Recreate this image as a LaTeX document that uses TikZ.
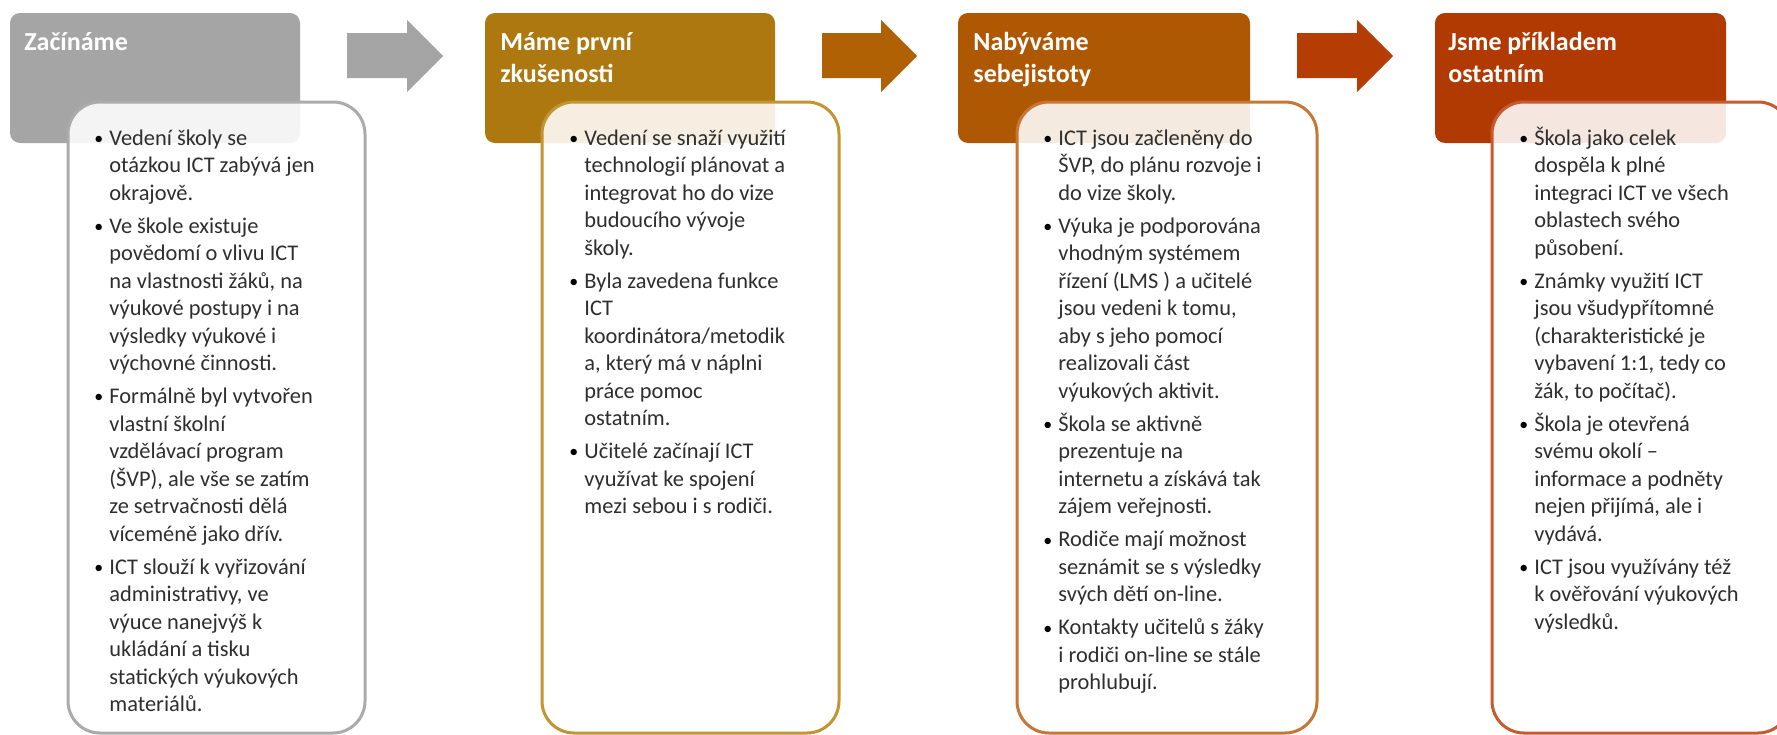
\documentclass[tikz,border=0pt]{standalone}
\usepackage{fontspec}
\setmainfont{Carlito}
\usepackage{array}
\definecolor{txt}{HTML}{2E2E2E}
\definecolor{hA}{HTML}{A5A5A5}
\definecolor{hB}{HTML}{AE7810}
\definecolor{hC}{HTML}{AF5803}
\definecolor{hD}{HTML}{B13A02}
\definecolor{bA}{HTML}{ABABAB}
\definecolor{bB}{HTML}{C39432}
\definecolor{bC}{HTML}{C77733}
\definecolor{bD}{HTML}{C65A30}
\definecolor{aA}{HTML}{A5A5A5}
\definecolor{aB}{HTML}{AF6103}
\definecolor{aC}{HTML}{B53D04}
\newcommand{\bul}{\makebox[7.5pt][l]{\color{black}\raisebox{0.4pt}{\scalebox{0.8}{\textbullet}}}}
\newcommand{\igap}{\\[2.8pt]}
\begin{document}
\begin{tikzpicture}[x=0.5pt,y=-0.5pt,
  hdr/.style={rounded corners=5pt},
  tbox/.style={line width=1.5pt, fill=white, fill opacity=0.88, rounded corners=16pt},
  htext/.style={anchor=base west, inner sep=0pt, text=white, font=\fontsize{13}{16}\selectfont\bfseries},
  btext/.style={anchor=base west, inner sep=0pt, text=txt, font=\fontsize{11.2}{13.75}\selectfont}]
\useasboundingbox[fill=white] (0,0) rectangle (1777,734);

% ---------- Column 1 ----------
\fill[hdr, hA] (10,13) rectangle (300,143);
\draw[tbox, draw=bA] (68,102) rectangle (365,733);
\node[htext] (h1) at (24,50) {\begin{tabular}[t]{@{}l@{}}Začínáme\end{tabular}};
\node[btext] (t1) at (94,145) {\begin{tabular}[t]{@{}l@{}l@{}}
\bul & Vedení školy se\\ & otázkou ICT zabývá jen\\ & okrajově.\igap
\bul & Ve škole existuje\\ & povědomí o vlivu ICT\\ & na vlastnosti žáků, na\\ & výukové postupy i na\\ & výsledky výukové i\\ & výchovné činnosti.\igap
\bul & Formálně byl vytvořen\\ & vlastní školní\\ & vzdělávací program\\ & (ŠVP), ale vše se zatím\\ & ze setrvačnosti dělá\\ & víceméně jako dřív.\igap
\bul & ICT slouží k vyřizování\\ & administrativy, ve\\ & výuce nanejvýš k\\ & ukládání a tisku\\ & statických výukových\\ & materiálů.
\end{tabular}};

% ---------- Column 2 ----------
\fill[hdr, hB] (485,13) rectangle (775,143);
\draw[tbox, draw=bB] (542,102) rectangle (839,733);
\node[htext] (h2) at (500,50) {\begin{tabular}[t]{@{}l@{}}Máme první\\zkušenosti\end{tabular}};
\node[btext] (t2) at (569,145) {\begin{tabular}[t]{@{}l@{}l@{}}
\bul & Vedení se snaží využití\\ & technologií plánovat a\\ & integrovat ho do vize\\ & budoucího vývoje\\ & školy.\igap
\bul & Byla zavedena funkce\\ & ICT\\ & koordinátora/metodik\\ & a, který má v náplni\\ & práce pomoc\\ & ostatním.\igap
\bul & Učitelé začínají ICT\\ & využívat ke spojení\\ & mezi sebou i s rodiči.
\end{tabular}};

% ---------- Column 3 ----------
\fill[hdr, hC] (958,13) rectangle (1250,143);
\draw[tbox, draw=bC] (1017,102) rectangle (1317,733);
\node[htext] (h3) at (973,50) {\begin{tabular}[t]{@{}l@{}}Nabýváme\\sebejistoty\end{tabular}};
\node[btext] (t3) at (1043,145) {\begin{tabular}[t]{@{}l@{}l@{}}
\bul & ICT jsou začleněny do\\ & ŠVP, do plánu rozvoje i\\ & do vize školy.\igap
\bul & Výuka je podporována\\ & vhodným systémem\\ & řízení (LMS ) a učitelé\\ & jsou vedeni k tomu,\\ & aby s jeho pomocí\\ & realizovali část\\ & výukových aktivit.\igap
\bul & Škola se aktivně\\ & prezentuje na\\ & internetu a získává tak\\ & zájem veřejnosti.\igap
\bul & Rodiče mají možnost\\ & seznámit se s výsledky\\ & svých dětí on-line.\igap
\bul & Kontakty učitelů s žáky\\ & i rodiči on-line se stále\\ & prohlubují.
\end{tabular}};

% ---------- Column 4 ----------
\fill[hdr, hD] (1435,13) rectangle (1726,143);
\draw[tbox, draw=bD] (1492,102) rectangle (1790,733);
\node[htext] (h4) at (1448,50) {\begin{tabular}[t]{@{}l@{}}Jsme příkladem\\ostatním\end{tabular}};
\node[btext] (t4) at (1519,145) {\begin{tabular}[t]{@{}l@{}l@{}}
\bul & Škola jako celek\\ & dospěla k plné\\ & integraci ICT ve všech\\ & oblastech svého\\ & působení.\igap
\bul & Známky využití ICT\\ & jsou všudypřítomné\\ & (charakteristické je\\ & vybavení 1:1, tedy co\\ & žák, to počítač).\igap
\bul & Škola je otevřená\\ & svému okolí –\\ & informace a podněty\\ & nejen přijímá, ale i\\ & vydává.\igap
\bul & ICT jsou využívány též\\ & k ověřování výukových\\ & výsledků.
\end{tabular}};

% ---------- Block arrows ----------
\fill[aA] (347,33) -- (407,33) -- (407,20) -- (443,56) -- (407,92) -- (407,78) -- (347,78) -- cycle;
\fill[aB] (822,33) -- (881,33) -- (881,20) -- (917,56) -- (881,92) -- (881,78) -- (822,78) -- cycle;
\fill[aC] (1297,33) -- (1357,33) -- (1357,20) -- (1393,56) -- (1357,92) -- (1357,78) -- (1297,78) -- cycle;
\end{tikzpicture}
\end{document}
